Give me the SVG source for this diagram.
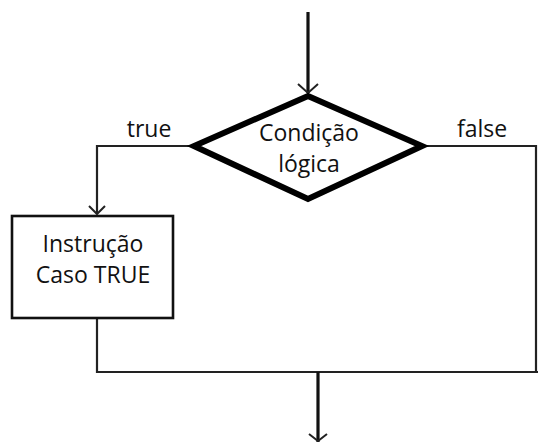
<svg xmlns="http://www.w3.org/2000/svg" width="538" height="442" viewBox="0 0 538 442">
  <style>
    text { font-family: "Open Sans", "Noto Sans", "DejaVu Sans", sans-serif; font-size: 23px; fill: #111; text-anchor: middle; }
    .flow { fill: none; stroke: #222; stroke-width: 2.2; }
    .thick { fill: none; stroke: #111; stroke-width: 3.2; }
    .head { fill: none; stroke: #222; stroke-width: 2; }
  </style>
  <rect width="538" height="442" fill="#fff"/>

  <g id="connectors">
    <!-- entry into the decision -->
    <line class="thick" x1="308" y1="12" x2="308" y2="93"/>
    <polyline class="head" points="298,84 308,93 318,84"/>
    <!-- true branch -->
    <polyline class="flow" points="194,146 97,146 97,214"/>
    <polyline class="head" points="89,206 97,214 105,206"/>
    <!-- false branch -->
    <polyline class="flow" points="423,146 536,146 536,372" stroke="#555"/>
    <!-- merge -->
    <polyline class="flow" points="97,319 97,372 538,372" stroke="#444"/>
    <!-- exit -->
    <line class="thick" x1="318" y1="372" x2="318" y2="442"/>
    <polyline class="head" points="309,434 318,441 327,434"/>
  </g>

  <g id="decision">
    <polygon points="308,96 422,146 308,199 194,146" fill="#fff" stroke="#000" stroke-width="6" stroke-linejoin="miter"/>
    <text x="309" y="141">Condição</text>
    <text x="309" y="172">lógica</text>
  </g>

  <g id="true-action">
    <rect x="12" y="216" width="161" height="102" fill="#fff" stroke="#111" stroke-width="2.6"/>
    <text x="93" y="252">Instrução</text>
    <text x="93" y="283">Caso TRUE</text>
  </g>

  <g id="labels">
    <text x="149" y="137">true</text>
    <text x="482" y="137">false</text>
  </g>
</svg>
